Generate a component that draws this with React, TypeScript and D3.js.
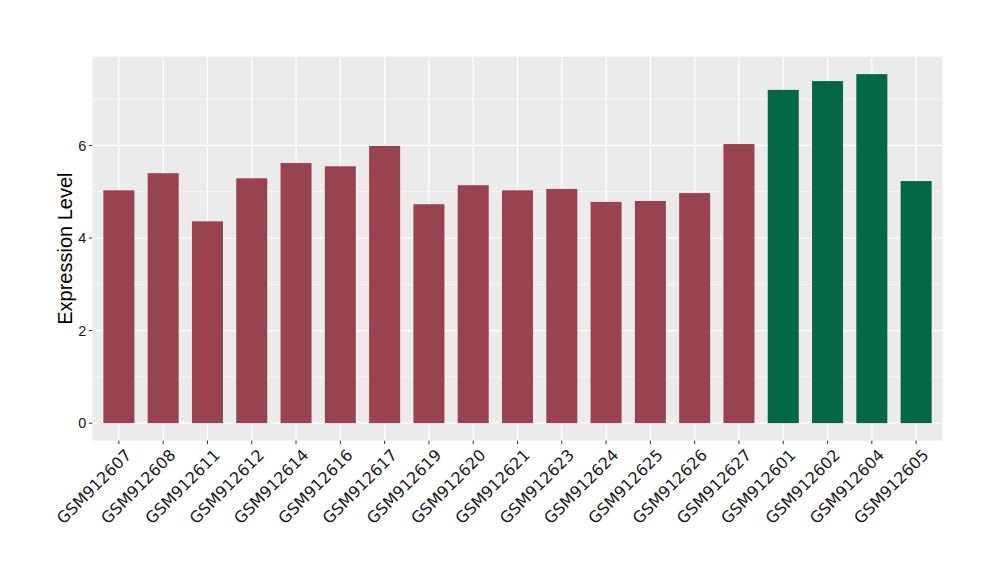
import React from "react";
import * as d3 from "d3";

const samples = [
  "GSM912607", "GSM912608", "GSM912611", "GSM912612", "GSM912614", "GSM912616",
  "GSM912617", "GSM912619", "GSM912620", "GSM912621", "GSM912623", "GSM912624",
  "GSM912625", "GSM912626", "GSM912627", "GSM912601", "GSM912602", "GSM912604",
  "GSM912605",
];
const values = [
  5.03, 5.40, 4.36, 5.29, 5.62, 5.55, 5.99, 4.73, 5.14, 5.03, 5.06, 4.78, 4.80,
  4.97, 6.03, 7.20, 7.39, 7.54, 5.23,
];
const groups = [
  "a", "a", "a", "a", "a", "a", "a", "a", "a", "a", "a", "a", "a", "a", "a",
  "b", "b", "b", "b",
];
const yTicks = [0, 2, 4, 6];
const yMinor = [1, 3, 5, 7];
const groupColors: Record<string, string> = { a: "#9a4350", b: "#026845" };

export default function App() {
  const W = 1000, H = 580;
  const left = 92.3, right = 942.7, top = 56.7, bottom = 440.6;
  const maxV = d3.max(values) as number;
  const y = d3.scaleLinear().domain([-0.05 * maxV, 1.05 * maxV]).range([bottom, top]);
  const n = samples.length;
  const unit = (right - left) / (n - 1 + 1.2);
  const xc = (i: number) => left + (0.6 + i) * unit;
  const bw = 0.7 * unit;
  return (
    <svg width={W} height={H} style={{ position: "absolute", left: 0, top: 0, background: "#fff" }}>
      <rect x={0} y={0} width={W} height={H} fill="#fff" />
      <rect x={left} y={top} width={right - left} height={bottom - top} fill="#ebebeb" />
      {yMinor.map((t) => (
        <line key={"m" + t} x1={left} x2={right} y1={y(t)} y2={y(t)} stroke="#fff" strokeWidth={0.6} />
      ))}
      {yTicks.map((t) => (
        <line key={"g" + t} x1={left} x2={right} y1={y(t)} y2={y(t)} stroke="#fff" strokeWidth={1.2} />
      ))}
      {samples.map((s, i) => (
        <line key={"vx" + s} x1={xc(i)} x2={xc(i)} y1={top} y2={bottom} stroke="#fff" strokeWidth={1.2} />
      ))}
      {samples.map((s, i) => (
        <rect key={"b" + s} x={xc(i) - bw / 2} width={bw} y={y(values[i])} height={y(0) - y(values[i])} fill={groupColors[groups[i]]} />
      ))}
      {yTicks.map((t) => (
        <g key={"yt" + t}>
          <line x1={left - 3.5} x2={left} y1={y(t)} y2={y(t)} stroke="#333" strokeWidth={1} />
          <text x={left - 6} y={y(t)} dy="0.35em" textAnchor="end" fontFamily="Liberation Sans, Arial, sans-serif" fontSize={14.5} fill="#1a1a1a">{t}</text>
        </g>
      ))}
      {samples.map((s, i) => (
        <g key={"xt" + s}>
          <line x1={xc(i)} x2={xc(i)} y1={bottom} y2={bottom + 3.5} stroke="#333" strokeWidth={1} />
          <text transform={`translate(${xc(i) + 5},${bottom + 7}) rotate(-45)`} textAnchor="end" dy="0.75em" fontFamily="DejaVu Sans, sans-serif" fontSize={16} fill="#1a1a1a">{s}</text>
        </g>
      ))}
      <text transform={`translate(72,${(top + bottom) / 2}) rotate(-90)`} textAnchor="middle" fontFamily="Liberation Sans, Arial, sans-serif" fontSize={20} fill="#000">Expression Level</text>
    </svg>
  );
}
